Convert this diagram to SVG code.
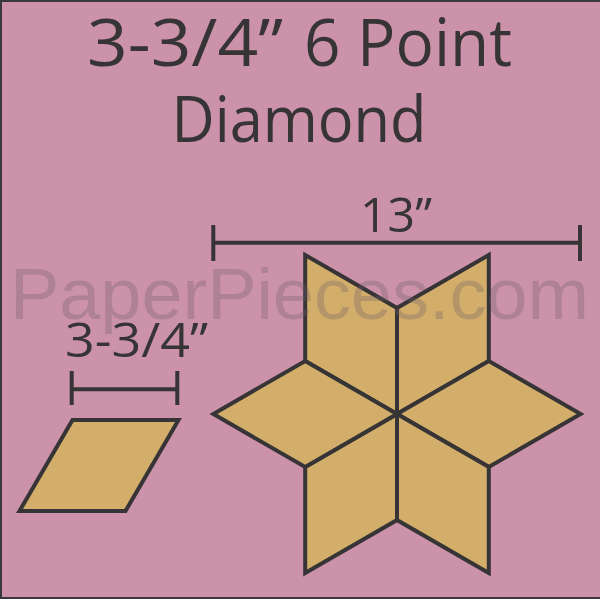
<svg xmlns="http://www.w3.org/2000/svg" width="600" height="600" viewBox="0 0 600 600">
<style>
.bg{fill:#cb92aa;stroke:#3a3a3a;stroke-width:2}
.t{font-family:"Open Sans","DejaVu Sans",sans-serif;fill:#363435;text-anchor:middle}
.ts{font-family:"Open Sans","DejaVu Sans",sans-serif;fill:#363435}
.wm{font-family:"Liberation Sans",Arial,sans-serif;fill:#6e5a66;fill-opacity:0.3}
.d{fill:#d3ae6b;stroke:#363435;stroke-width:4;stroke-linejoin:miter}
.dim{fill:none;stroke:#363435;stroke-width:4}
</style>
<rect class="bg" x="1" y="1" width="602" height="597"/>
<g id="title">
<text class="ts" x="87" y="66" font-size="66" textLength="196" lengthAdjust="spacingAndGlyphs">3-3/4”</text>
<text class="ts" x="304" y="66" font-size="66" textLength="208" lengthAdjust="spacingAndGlyphs">6 Point</text>
<text class="t" x="299" y="141.5" font-size="64" textLength="255" lengthAdjust="spacingAndGlyphs">Diamond</text>
</g>
<g id="star">
<polygon class="d" points="397,414 397,308 305.2,255 305.2,361"/>
<polygon class="d" points="397,414 397,308 488.8,255 488.8,361"/>
<polygon class="d" points="397,414 488.8,361 580.6,414 488.8,467"/>
<polygon class="d" points="397,414 488.8,467 488.8,573 397,520"/>
<polygon class="d" points="397,414 397,520 305.2,573 305.2,467"/>
<polygon class="d" points="397,414 305.2,467 213.4,414 305.2,361"/>
</g>
<g id="small-diamond">
<polygon class="d" points="72.5,420 178.5,420 125.5,511 19.5,511"/>
</g>
<g id="watermark">
<text class="wm" x="10" y="319" font-size="72" textLength="579" lengthAdjust="spacingAndGlyphs">PaperPieces.com</text>
</g>
<g id="dimensions">
<path class="dim" d="M213.3,242.7H580M213.3,225V261M580,225V261"/>
<text class="t" x="396" y="232" font-size="48" textLength="72" lengthAdjust="spacingAndGlyphs">13”</text>
<path class="dim" d="M71.7,389.3H177.3M71.7,371V405M177.3,371V405"/>
<text class="t" x="136.5" y="357" font-size="48" textLength="143" lengthAdjust="spacingAndGlyphs">3-3/4”</text>
</g>
</svg>
